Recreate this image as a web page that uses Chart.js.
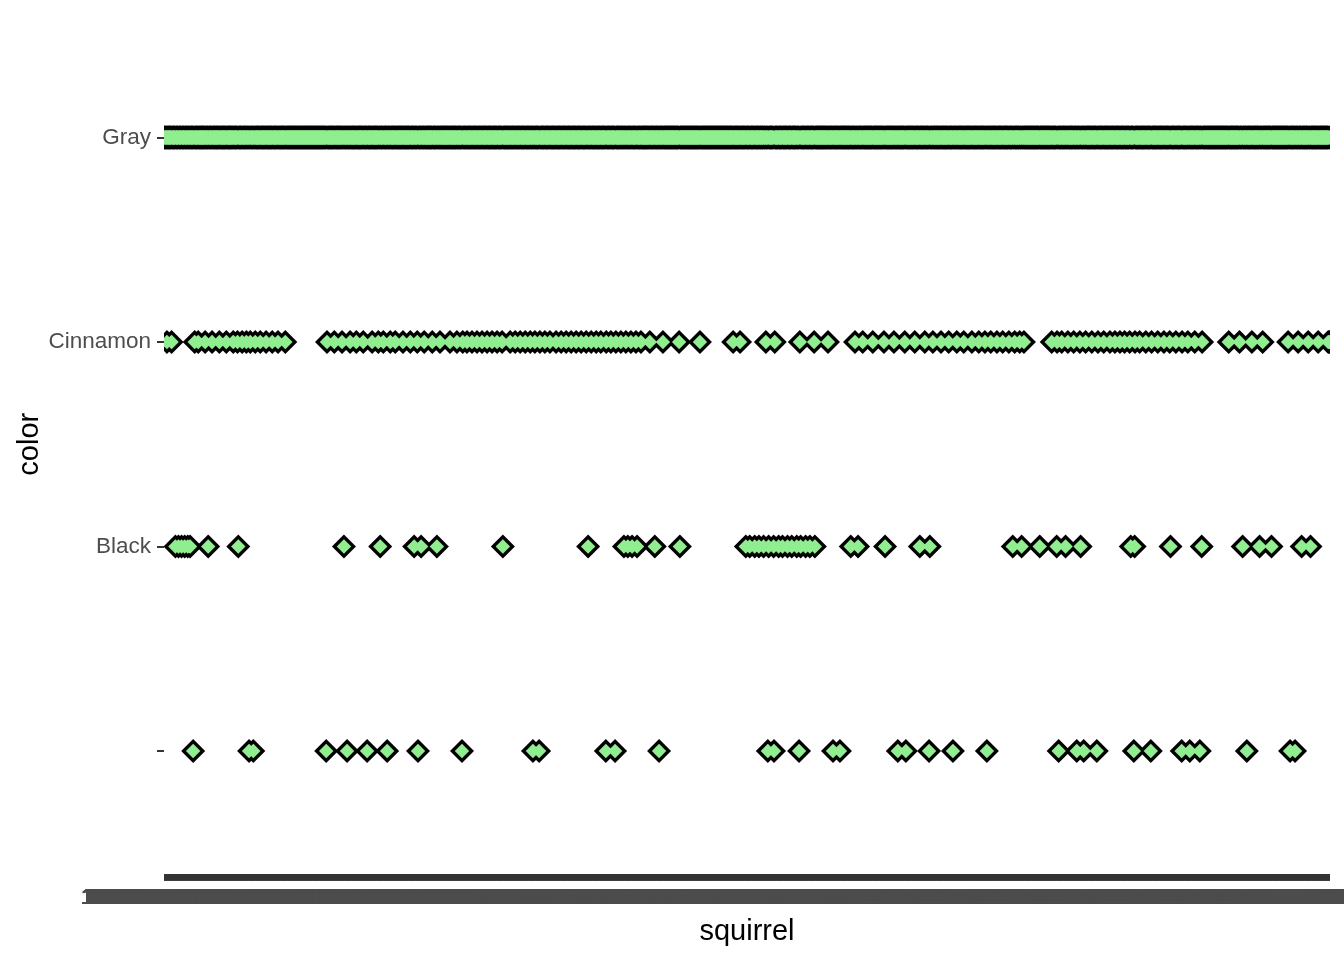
<!DOCTYPE html>
<html>
<head>
<meta charset="utf-8">
<script src="https://cdn.jsdelivr.net/npm/chart.js@4/dist/chart.umd.min.js"></script>
<style>
  html, body { margin: 0; padding: 0; background: #ffffff; }
  #wrap { width: 1344px; height: 960px; position: relative; }
</style>
</head>
<body>
<div id="wrap"><canvas id="c"></canvas></div>
<script>
// ---- data (squirrel index along the x axis, one row per fur colour) ----
const N_SQUIRRELS = 3023;
const colorLevels = ["", "Black", "Cinnamon", "Gray"];   // bottom -> top

const cinnamonIdx = [8, 20, 80, 89, 107, 125, 144, 162, 180, 191, 203, 214, 224, 237, 250, 265, 281, 296, 315,
  423, 442, 462, 483, 499, 517, 540, 556, 569, 587, 600, 620, 639, 657, 675, 696, 716, 742, 760, 775, 786, 799,
  812, 825, 838, 851, 864, 877, 898, 911, 924, 937, 950, 962, 975, 988, 1001, 1017, 1030, 1043, 1056, 1069, 1082,
  1095, 1108, 1121, 1133, 1147, 1159, 1172, 1185, 1198, 1211, 1224, 1237, 1260, 1294, 1336, 1390,
  1476, 1494, 1561, 1584, 1649, 1686, 1722,
  1792, 1812, 1838, 1867, 1893, 1921, 1947, 1973, 1994, 2015, 2035, 2056, 2074, 2095, 2113, 2129, 2144, 2160,
  2175, 2191, 2206, 2219, 2230,
  2302, 2316, 2328, 2344, 2359, 2375, 2390, 2406, 2422, 2437, 2453, 2466, 2479, 2491, 2504, 2518, 2530, 2546,
  2561, 2577, 2593, 2608, 2624, 2640, 2655, 2673, 2692,
  2761, 2789, 2821, 2849, 2915, 2941, 2967, 2993, 3019, 3022];

const blackIdx = [30, 38, 46, 54, 62, 68, 115, 193, 467, 561, 649, 667, 708, 879, 1100, 1193, 1203, 1214, 1227,
  1273, 1338, 1509, 1519, 1532, 1543, 1555, 1568, 1581, 1594, 1604, 1617, 1628, 1641, 1651, 1664, 1675, 1688,
  1781, 1800, 1870, 1960, 1986, 2201, 2224, 2271, 2315, 2338, 2377, 2507, 2517, 2610, 2691, 2797, 2841, 2872,
  2950, 2973];

const naIdx = [76, 221, 232, 421, 475, 527, 579, 659, 773, 957, 973, 1146, 1170, 1284, 1566, 1582, 1647, 1735,
  1753, 1903, 1924, 1984, 2046, 2134, 2320, 2367, 2385, 2419, 2515, 2559, 2639, 2660, 2686, 2808, 2920, 2933];

// every other squirrel in the census is Gray (each squirrel has exactly one colour)
const usedIdx = new Set([...cinnamonIdx, ...blackIdx, ...naIdx]);
const grayIdx = [];
for (let i = 1; i <= N_SQUIRRELS; i++) if (!usedIdx.has(i)) grayIdx.push(i);

// squirrel id tick labels (illegible in the original: they overlap into a solid band)
const hectareLetters = "ABCDEFGHI";
const squirrelIds = [];
for (let i = 0; i < N_SQUIRRELS; i++) {
  squirrelIds.push((10 + Math.floor(i / 100)) + hectareLetters[i % 9] + "-" + (i % 2 ? "PM" : "AM") +
    "-10" + String(6 + (i % 14)).padStart(2, "0") + "-" + String(1 + (i % 20)).padStart(2, "0"));
}

// ---- chart ----
const FONT = "'Liberation Sans', Arial, sans-serif";
const rows = [naIdx, blackIdx, cinnamonIdx, grayIdx];
const toPts = (idx, level) => idx.map(i => ({ x: i, y: level }));

const datasets = [];
rows.forEach((idx, level) => {
  // black outline layer (drawn first, underneath)
  datasets.push({
    label: colorLevels[level] + ' outline', data: toPts(idx, level), order: 2,
    showLine: false, pointStyle: 'rectRot', pointRadius: 12, pointHoverRadius: 12,
    pointBorderWidth: 0, pointBackgroundColor: '#000000', pointBorderColor: '#000000', clip: 0
  });
  // light green fill layer (on top)
  datasets.push({
    label: colorLevels[level], data: toPts(idx, level), order: 1,
    showLine: false, pointStyle: 'rectRot', pointRadius: 7.2, pointHoverRadius: 7.2,
    pointBorderWidth: 0, pointBackgroundColor: '#90EE90', pointBorderColor: '#90EE90', clip: 0
  });
});

new Chart(document.getElementById('c'), {
  type: 'scatter',
  data: { datasets },
  options: {
    responsive: true,
    maintainAspectRatio: false,
    devicePixelRatio: 1,
    animation: false,
    events: [],
    layout: { padding: { top: 14.8, right: 14, left: 0, bottom: 0 } },
    plugins: { legend: { display: false }, tooltip: { enabled: false } },
    scales: {
      x: {
        type: 'linear',
        min: 0.4,
        max: N_SQUIRRELS + 0.6,
        afterBuildTicks: s => { s.ticks = squirrelIds.map((_, i) => ({ value: i + 1 })); },
        afterFit: s => { s.height = 86.3; s.paddingLeft = 0; s.paddingRight = 0; },
        border: { display: false },
        grid: { display: true, drawOnChartArea: false, drawTicks: true, tickLength: 7, color: '#333333', lineWidth: 1 },
        ticks: {
          autoSkip: false, maxRotation: 0, minRotation: 0, padding: 4, maxTicksLimit: 100000,
          color: '#4D4D4D', font: { family: FONT, size: 22 },
          callback: v => squirrelIds[v - 1] || ''
        },
        title: { display: true, text: 'squirrel', color: '#000000', font: { family: FONT, size: 29 }, padding: { top: 0, bottom: 11 } }
      },
      y: {
        type: 'linear',
        min: -0.6,
        max: 3.6,
        afterBuildTicks: s => { s.ticks = colorLevels.map((_, i) => ({ value: i })); },
        afterFit: s => { s.width = 164; s.paddingTop = 0; s.paddingBottom = 0; },
        border: { display: false },
        grid: { display: true, drawOnChartArea: false, drawTicks: true, tickLength: 7, color: '#333333', lineWidth: 2 },
        ticks: {
          autoSkip: false, padding: 6,
          color: '#4D4D4D', font: { family: FONT, size: 22.5 },
          callback: v => colorLevels[v]
        },
        title: { display: true, text: 'color', color: '#000000', font: { family: FONT, size: 29 }, padding: { top: 12.5, bottom: 0 } }
      }
    }
  }
});
</script>
</body>
</html>
